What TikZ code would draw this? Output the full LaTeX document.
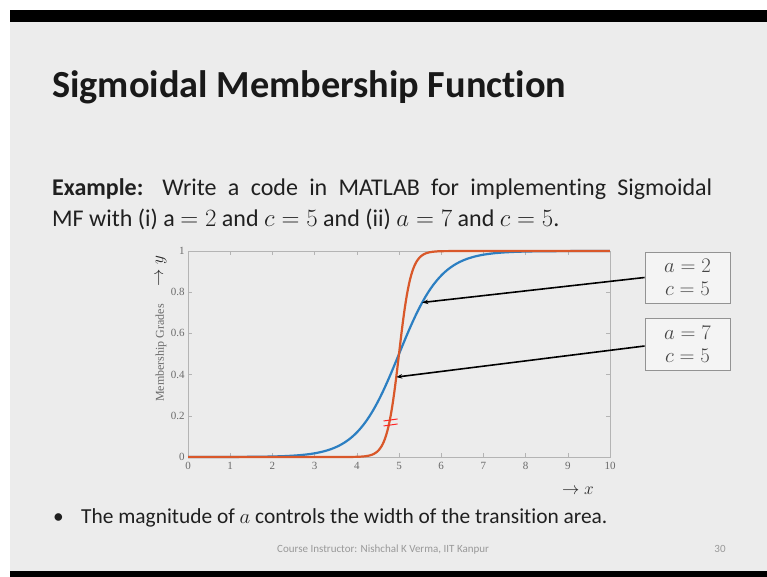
\documentclass[tikz,border=0pt]{standalone}
\usepackage{fontspec}
\setmainfont{Carlito}[Ligatures=NoCommon]
\newfontfamily\plotfont{Liberation Serif}
\usetikzlibrary{arrows.meta}
\definecolor{slidebg}{HTML}{ECECEC}
\definecolor{mlblue}{HTML}{2C7FC2}
\definecolor{mlorange}{HTML}{D9582A}
\definecolor{axisgrey}{HTML}{B4B4B4}
\definecolor{ticktext}{HTML}{6A6A6A}
\definecolor{bodytext}{HTML}{202020}
\definecolor{boxtext}{HTML}{454545}
\begin{document}
\begin{tikzpicture}[x=1pt,y=-1pt,
  fsize/.style={font=\fontsize{#1}{#1}\selectfont},
  paramsbox/.style={draw=gray!85, line width=0.9pt, fill=slidebg!60!white,
    minimum width=85pt, minimum height=51pt, inner sep=0pt,
    text=boxtext, font=\fontsize{20pt}{23pt}\selectfont, align=center},
  pointer/.style={draw=black, line width=1.6pt,
    -{Stealth[length=6pt,width=4.5pt]}},
  ticklab/.style={text=ticktext, font=\plotfont\fontsize{11pt}{11pt}\selectfont, inner sep=1pt},
  curve/.style={line width=2.2pt, line join=round}]
\useasboundingbox (0,0) rectangle (767,577);
% slide frame
\fill[white] (0,0) rectangle (767,577);
\fill[black] (10,10) rectangle (767,22);
\fill[slidebg] (10,22) rectangle (767,571);
\fill[black] (10,571) rectangle (767,577);

% title and example text
\node[anchor=base west, inner sep=0pt, text=black!90, font=\fontsize{38.3pt}{40pt}\selectfont\bfseries]
  (title) at (52,98) {Sigmoidal Membership Function};
\node[anchor=base west, inner sep=0pt, text=bodytext, fsize=24pt]
  (line1) at (52,196) {\makebox[660pt][s]{\textbf{Example:} Write a code in MATLAB for implementing Sigmoidal}};
\node[anchor=base west, inner sep=0pt, text=bodytext, fsize=24pt]
  (line2) at (52,226) {MF with (i) a $= 2$ and $c=5$ and (ii) $a=7$ and $c=5$.};

% plot region: 0..10 horizontally, 0..1 vertically
\begin{scope}[shift={(188,457)}, x=42.2pt, y=206pt]
  \draw[axisgrey, line width=0.7pt] (0,0) rectangle (10,1);
  \foreach \k in {0,...,10} {
    \draw[axisgrey, line width=0.6pt] (\k,0) -- (\k,0.02);
    \draw[axisgrey, line width=0.6pt] (\k,1) -- (\k,0.98);
    \node[ticklab, anchor=north] (xt\k) at (\k,-0.02) {\k};
  }
  \foreach \v/\t in {0/0,0.2/0.2,0.4/0.4,0.6/0.6,0.8/0.8,1/1} {
    \draw[axisgrey, line width=0.6pt] (0,\v) -- (0.1,\v);
    \draw[axisgrey, line width=0.6pt] (10,\v) -- (9.9,\v);
    \node[ticklab, anchor=east] at (-0.05,\v) {\t};
  }
  % sigmoid curves, argument clamped to keep exp() small
  \draw[curve, mlblue] plot[domain=0:10, samples=200]
    (\x, {1/(1+exp(-max(-9,min(9,2*(\x-5)))))});
  \draw[curve, mlorange] plot[domain=0:10, samples=400]
    (\x, {1/(1+exp(-max(-9,min(9,7*(\x-5)))))});
  \coordinate (onblue) at (5.549,0.75);
  \coordinate (onorange) at (4.935,0.388);
  \coordinate (mark) at (4.80,0.17);
\end{scope}

% red hand mark on the steep curve
\draw[red!85!white, line width=1pt] ([shift={(-7,-1)}]mark) -- ([shift={(7,-3)}]mark);
\draw[red!85!white, line width=1pt] ([shift={(-7,4)}]mark) -- ([shift={(7,2)}]mark);

% axis captions
\node[rotate=90, text=ticktext, font=\plotfont\fontsize{12pt}{12pt}\selectfont] (ylab) at (161,353) {Membership Grades};
\node[rotate=90, text=black!85, fsize=19pt] (yarrow) at (161,271) {$\rightarrow y$};
\node[text=black!85, fsize=19pt] (xarrow) at (578,491) {$\rightarrow x$};

% parameter boxes with pointers
\node[paramsbox] (boxA) at (687.5,277.5) {$a=2$\\$c=5$};
\node[paramsbox, minimum height=52pt] (boxB) at (687.5,344) {$a=7$\\$c=5$};
\draw[pointer] (boxA.west) -- (onblue);
\draw[pointer] ([yshift=-2pt]boxB.west) -- (onorange);

% bullet note
\node[anchor=base west, inner sep=0pt, text=bodytext, fsize=21.4pt] (bullet) at (53,523) {\textbullet};
\node[anchor=base west, inner sep=0pt, text=bodytext, fsize=21.4pt]
  (note) at (81,523) {The magnitude of $a$ controls the width of the transition area.};

% footer
\node[anchor=base west, inner sep=0pt, text=gray!80, fsize=11pt] (footer) at (277,552) {Course Instructor: Nishchal K Verma, IIT Kanpur};
\node[anchor=base, inner sep=0pt, text=gray!80, fsize=11pt] (pageno) at (720,552) {30};
\end{tikzpicture}
\end{document}
